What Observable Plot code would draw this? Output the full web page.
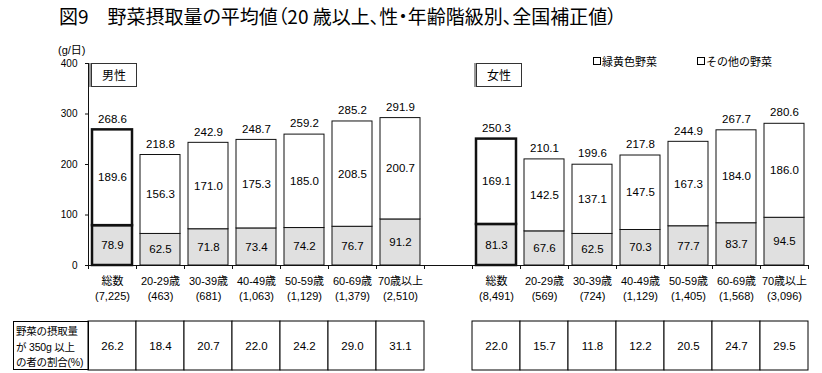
<!DOCTYPE html>
<html>
<head>
<meta charset="utf-8">
<script src="https://cdn.jsdelivr.net/npm/d3@7"></script>
<script src="https://cdn.jsdelivr.net/npm/@observablehq/plot@0.6"></script>
<style>
  html, body { margin: 0; padding: 0; background: #fff; }
  #wrap { position: relative; width: 822px; height: 373px; overflow: hidden; background: #fff;
          font-family: "Liberation Sans", "Noto Sans CJK JP", sans-serif; color: #000; }
  #title { position: absolute; left: 59px; top: 6px; font-size: 19px; line-height: 1; white-space: nowrap;
           font-family: "Noto Sans CJK JP", sans-serif; font-feature-settings: "palt"; }
  #unit { position: absolute; left: 58px; top: 41px; font-size: 11px; }
  #chart { position: absolute; left: 0; top: 38px; }
  #table { position: absolute; left: 0; top: 310px; }
  .panel { position: absolute; top: 63px; width: 44px; height: 22px; border: 1px solid #333;
           box-shadow: -2px 0 0 #999; background: #fff; font-size: 12px; text-align: center; line-height: 22px;
           font-family: "Noto Sans CJK JP", sans-serif; }
  .legend { position: absolute; top: 53px; font-size: 11px; font-family: "Noto Sans CJK JP", sans-serif; white-space: nowrap; }
  .legend i { display: inline-block; width: 6px; height: 6px; border: 1px solid #000; margin-right: 1px; vertical-align: 1px; }
  #head { position: absolute; left: 13px; top: 321px; width: 76px; height: 49px; border: 1px solid #000;
          font-size: 10.5px; line-height: 15.5px; padding: 2px 0 0 2px; box-sizing: border-box; white-space: nowrap;
          font-family: "Liberation Sans", "Noto Sans CJK JP", sans-serif; letter-spacing: -0.2px; }
</style>
</head>
<body>
<div id="wrap">
  <div id="title">図9　野菜摂取量の平均値（20 歳以上、性・年齢階級別、全国補正値）</div>
  <div id="unit">(g/日)</div>
  <div id="chart"></div>
  <div class="panel" style="left:91px">男性</div>
  <div class="panel" style="left:476px">女性</div>
  <div class="legend" style="left:593px"><i></i>緑黄色野菜</div>
  <div class="legend" style="left:697px"><i></i>その他の野菜</div>
  <div id="table"></div>
  <div id="head">野菜の摂取量<br>が 350g 以上<br>の者の割合(%)</div>
</div>
<script>
// ---- data ----
const categories = ["総数", "20-29歳", "30-39歳", "40-49歳", "50-59歳", "60-69歳", "70歳以上"];
const maleN = ["(7,225)", "(463)", "(681)", "(1,063)", "(1,129)", "(1,379)", "(2,510)"];
const femaleN = ["(8,491)", "(569)", "(724)", "(1,129)", "(1,405)", "(1,568)", "(3,096)"];
const maleGreen = [78.9, 62.5, 71.8, 73.4, 74.2, 76.7, 91.2];
const maleOther = [189.6, 156.3, 171.0, 175.3, 185.0, 208.5, 200.7];
const maleTotal = [268.6, 218.8, 242.9, 248.7, 259.2, 285.2, 291.9];
const femaleGreen = [81.3, 67.6, 62.5, 70.3, 77.7, 83.7, 94.5];
const femaleOther = [169.1, 142.5, 137.1, 147.5, 167.3, 184.0, 186.0];
const femaleTotal = [250.3, 210.1, 199.6, 217.8, 244.9, 267.7, 280.6];
const male350 = [26.2, 18.4, 20.7, 22.0, 24.2, 29.0, 31.1];
const female350 = [22.0, 15.7, 11.8, 12.2, 20.5, 24.7, 29.5];
const yTicks = [0, 100, 200, 300, 400];

// ---- table built from arrays ----
const slots = [...categories.map((c, i) => "M" + i), "gap", ...categories.map((c, i) => "F" + i)];
const rows = [];
categories.forEach((c, i) => rows.push({slot: "M" + i, cat: c, n: maleN[i], green: maleGreen[i], other: maleOther[i], total: maleTotal[i], pct: male350[i], isTotal: i === 0}));
categories.forEach((c, i) => rows.push({slot: "F" + i, cat: c, n: femaleN[i], green: femaleGreen[i], other: femaleOther[i], total: femaleTotal[i], pct: female350[i], isTotal: i === 0}));

const W = 822, ML = 88, MR = 14;
const step = (W - ML - MR) / slots.length;
const font = '"Liberation Sans", "Noto Sans CJK JP", sans-serif';
const fmt = v => v.toFixed(1);

const chart = Plot.plot({
  width: W, height: 267,
  marginLeft: ML, marginRight: MR, marginTop: 25, marginBottom: 40,
  x: {domain: slots, paddingInner: 0.167, paddingOuter: 0.0835, axis: null},
  y: {domain: [0, 400], axis: null},
  style: {fontFamily: font, fontSize: "11px", color: "#000", background: "transparent", overflow: "visible"},
  marks: [
    Plot.barY(rows, {x: "slot", y1: 0, y2: "green", fill: "#e0e0e0", stroke: "#111", strokeWidth: d => d.isTotal ? 2.5 : 1}),
    Plot.barY(rows, {x: "slot", y1: "green", y2: "total", fill: "#fff", stroke: "#111", strokeWidth: d => d.isTotal ? 2.5 : 1}),
    Plot.ruleY([0], {stroke: "#111"}),
    Plot.frame({anchor: "left", stroke: "#111"}),
    Plot.axisY({ticks: yTicks, tickSize: 3, tickPadding: 8, fontSize: 10, stroke: "#111", label: null}),
    Plot.ruleX(slots, {x: d => d, y1: 0, y2: 0, insetBottom: -4, dx: -step / 2, stroke: "#111"}),
    Plot.ruleX([slots[slots.length - 1]], {x: d => d, y1: 0, y2: 0, insetBottom: -4, dx: step / 2, stroke: "#111"}),
    Plot.text(rows, {x: "slot", y: "total", text: d => fmt(d.total), dy: -11, fontSize: 11.5}),
    Plot.text(rows, {x: "slot", y: d => (d.green + d.total) / 2, text: d => fmt(d.other), fontSize: 11.5}),
    Plot.text(rows, {x: "slot", y: d => d.green / 2, text: d => fmt(d.green), fontSize: 11.5}),
    Plot.text(rows, {x: "slot", text: d => d.cat + "\n" + d.n, frameAnchor: "bottom", lineAnchor: "top", dy: 9, lineHeight: 1.35, fontSize: 11})
  ]
});
document.getElementById("chart").append(chart);

const table = Plot.plot({
  width: W, height: 63,
  marginLeft: ML, marginRight: MR, marginTop: 11, marginBottom: 3,
  x: {domain: slots, padding: 0, axis: null},
  style: {fontFamily: font, fontSize: "11.5px", color: "#000", background: "transparent", overflow: "visible"},
  marks: [
    Plot.cell(rows, {x: "slot", fill: "#fff", stroke: "#000"}),
    Plot.text(rows, {x: "slot", text: d => fmt(d.pct), frameAnchor: "middle", fontSize: 11.5})
  ]
});
document.getElementById("table").append(table);
</script>
</body>
</html>
